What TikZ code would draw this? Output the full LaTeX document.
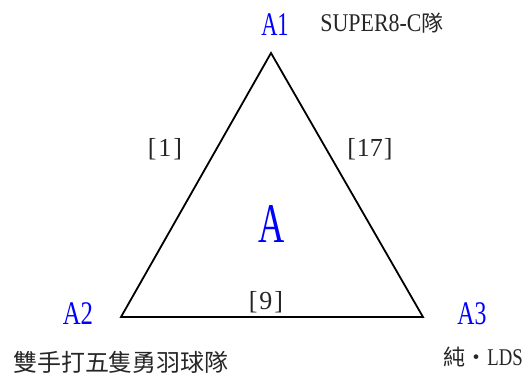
\documentclass[tikz,border=0pt]{standalone}
\usepackage{fontspec}
\setmainfont{Liberation Serif}
\newfontfamily\cjk{Noto Sans CJK TC}
\begin{document}
\begin{tikzpicture}[x=1pt,y=-1pt,
  lbl/.style={inner sep=0pt, text=blue, font=\fontsize{33}{33}\selectfont},
  num/.style={inner sep=0pt, text=black!85, font=\fontsize{26}{26}\selectfont},
  team/.style={inner sep=0pt, text=black!85, font=\fontsize{24}{24}\selectfont},
  edge/.style={draw=black, line width=1.8pt, line join=miter}]
\useasboundingbox (0,0) rectangle (528,376);
\coordinate (v1) at (271,53);
\coordinate (v2) at (121,317);
\coordinate (v3) at (423,317);
\draw[edge] (v1) -- (v2) -- (v3) -- cycle;
\node[lbl] (a1) at (275,25) {\scalebox{0.68}[1]{A1}};
\node[lbl] (a2) at (78,314) {\scalebox{0.75}[1]{A2}};
\node[lbl] (a3) at (472,314) {\scalebox{0.72}[1]{A3}};
\node[lbl, font=\fontsize{56}{56}\selectfont] (ac) at (272,224) {\scalebox{0.65}[1]{A}};
\node[num] (n1) at (165,149) {[\hspace{2pt}1\hspace{2pt}]};
\node[num] (n17) at (370,149) {[\hspace{1pt}17\hspace{1pt}]};
\node[num] (n9) at (266,302) {[\hspace{2pt}9\hspace{2pt}]};
\node[team, font=\fontsize{25.5}{25.5}\selectfont] (t1) at (382,23) {\scalebox{0.86}[1]{SUPER8-C}{\cjk\fontsize{22}{22}\selectfont 隊}};
\node[team] (t2) at (121,362) {\cjk\fontsize{24}{24}\selectfont 雙手打五隻勇羽球隊};
\node[team] (t3) at (483,357) {{\cjk\fontsize{22}{22}\selectfont 純・}\scalebox{0.78}[1]{LDS}};
\end{tikzpicture}
\end{document}
